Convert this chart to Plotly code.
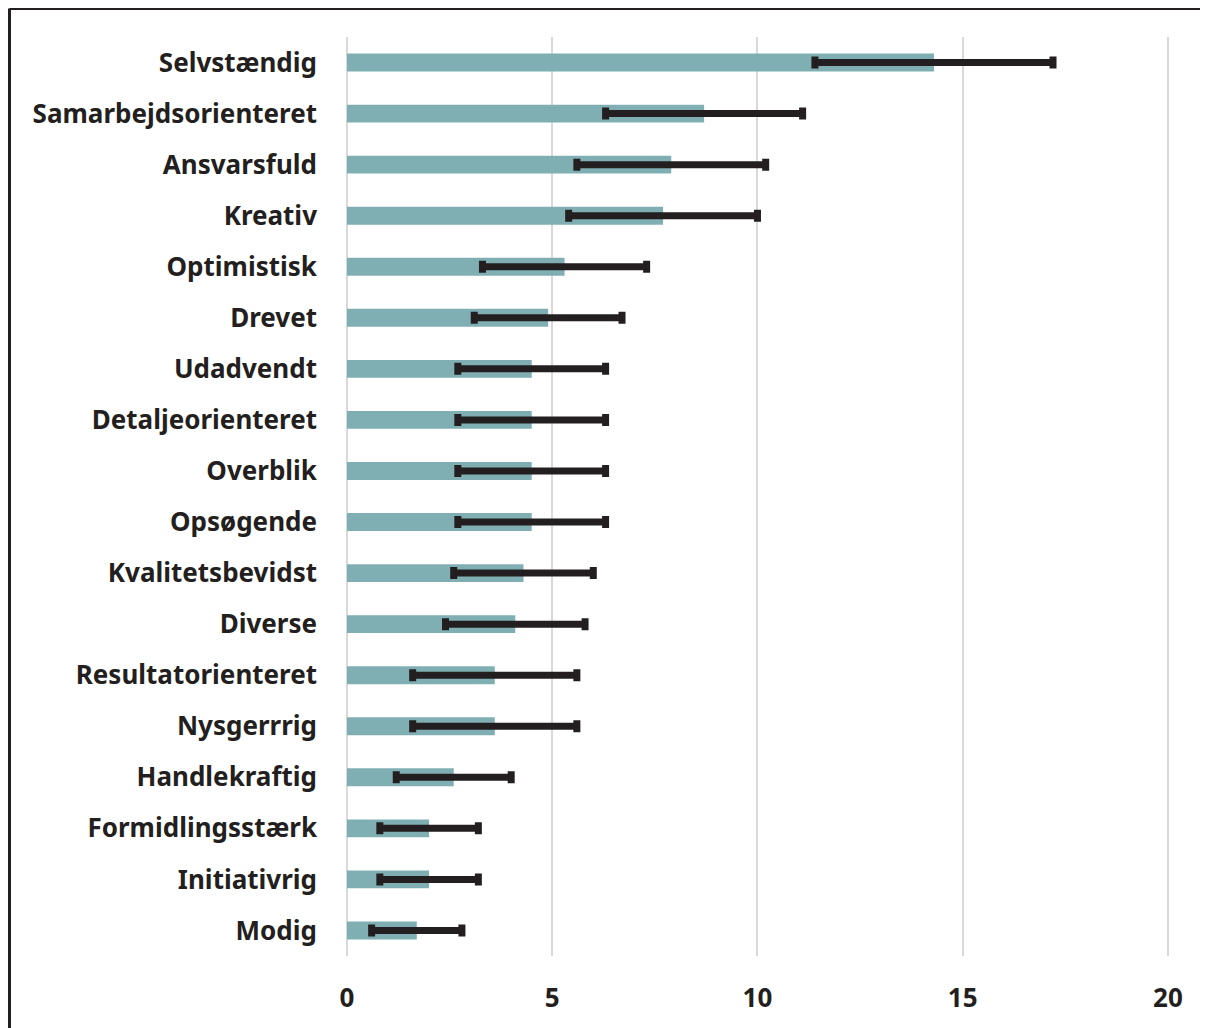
import plotly.graph_objects as go

categories = ["Selvstændig", "Samarbejdsorienteret", "Ansvarsfuld", "Kreativ", "Optimistisk",
              "Drevet", "Udadvendt", "Detaljeorienteret", "Overblik", "Opsøgende",
              "Kvalitetsbevidst", "Diverse", "Resultatorienteret", "Nysgerrrig",
              "Handlekraftig", "Formidlingsstærk", "Initiativrig", "Modig"]
values = [14.3, 8.7, 7.9, 7.7, 5.3, 4.9, 4.5, 4.5, 4.5, 4.5, 4.3, 4.1, 3.6, 3.6, 2.6, 2.0, 2.0, 1.7]
err_low = [11.4, 6.3, 5.6, 5.4, 3.3, 3.1, 2.7, 2.7, 2.7, 2.7, 2.6, 2.4, 1.6, 1.6, 1.2, 0.8, 0.8, 0.6]
err_high = [17.2, 11.1, 10.2, 10.0, 7.3, 6.7, 6.3, 6.3, 6.3, 6.3, 6.0, 5.8, 5.6, 5.6, 4.0, 3.2, 3.2, 2.8]
x_ticks = [0, 5, 10, 15, 20]

plus = [h - v for h, v in zip(err_high, values)]
minus = [v - l for l, v in zip(err_low, values)]

# page has an 8px body margin, so the figure is 8px smaller than the window
W, H = 1200, 1020
ML, MR, MT, MB = 339, 38, 29, 72
TXT = "#231F20"
FONT = "Noto Sans"

fig = go.Figure(go.Bar(
    y=categories, x=values, orientation="h",
    marker=dict(color="#7FAFB3", line=dict(width=0)),
    width=0.35,
    error_x=dict(type="data", symmetric=False, array=plus, arrayminus=minus,
                 color=TXT, thickness=7, width=6),
))

pw = W - ML - MR
ph = H - MT - MB
bx = (1.5 - ML) / pw
by = (H - MB - 0.5) / ph

fig.update_layout(
    width=W, height=H,
    margin=dict(l=ML, r=MR, t=MT, b=MB),
    paper_bgcolor="white", plot_bgcolor="white",
    font=dict(family=FONT, size=26, color=TXT),
    showlegend=False,
    xaxis=dict(range=[0, 20.05], tickvals=x_ticks, showgrid=True, gridcolor="#D9D9D9",
               gridwidth=2, zeroline=True, zerolinecolor="#D9D9D9", zerolinewidth=2,
               showline=False, ticks="", tickfont=dict(family=FONT, size=26, color=TXT, weight="bold"),
               ticklabelstandoff=24),
    yaxis=dict(autorange="reversed", showgrid=False, zeroline=False, showline=False, ticks="",
               tickfont=dict(family=FONT, size=26, color=TXT, weight="bold"),
               ticklabelstandoff=29),
    shapes=[
        dict(type="line", xref="paper", yref="paper", x0=bx, x1=1.2, y0=by, y1=by,
             line=dict(color=TXT, width=3)),
        dict(type="line", xref="paper", yref="paper", x0=bx, x1=bx, y0=by, y1=-0.2,
             line=dict(color=TXT, width=3)),
    ],
)

fig.write_html("out.html")
